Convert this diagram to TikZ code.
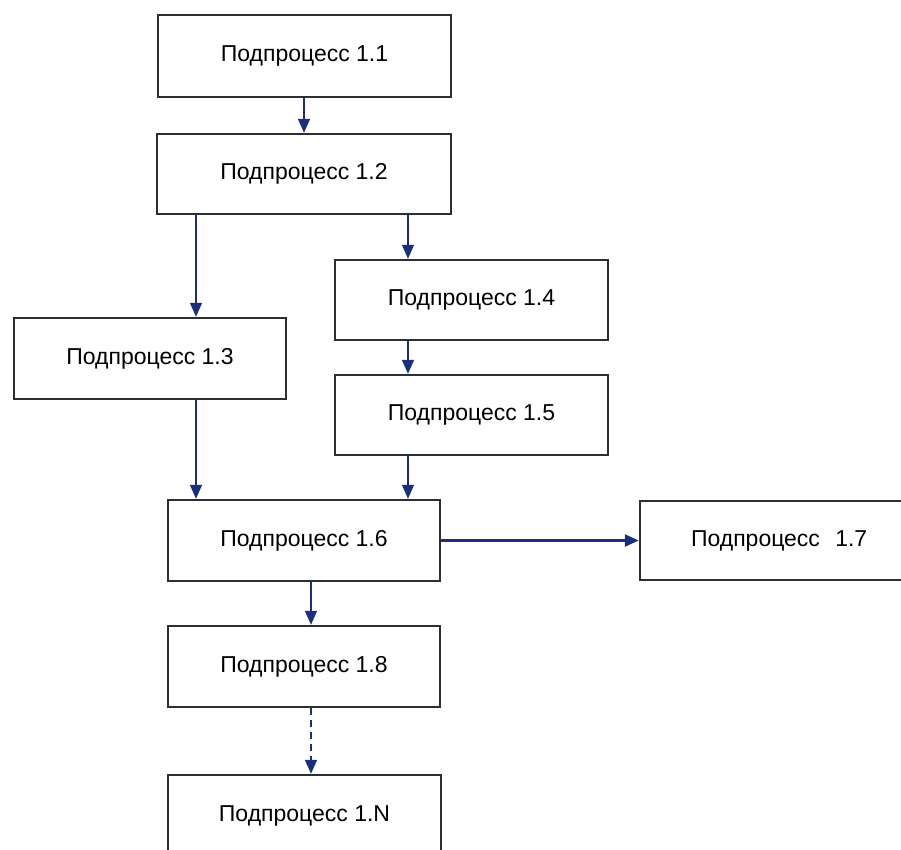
\documentclass[tikz,border=0pt]{standalone}
\usepackage{fontspec}
\setmainfont{Liberation Sans}
\usetikzlibrary{arrows.meta}
\definecolor{arrblue}{HTML}{1C2F7E}
\definecolor{boxline}{HTML}{2E2E2E}
\tikzset{
  procbox/.style={draw=boxline, line width=2.4pt, fill=white, minimum height=81pt,
    font=\fontsize{23}{26}\selectfont, inner sep=0pt},
  arr/.style={draw=arrblue, line width=1.7pt, -{Triangle[length=14pt,width=12pt]}},
  dasharr/.style={arr, dash pattern=on 7pt off 5pt}
}
\begin{document}
\begin{tikzpicture}[x=1pt,y=-1pt]
\useasboundingbox (0,0) rectangle (901,850);
\clip (0,0) rectangle (901,850);
\node[procbox, minimum width=293pt, minimum height=82pt] (n11) at (304.5,56) {Подпроцесс 1.1};
\node[procbox, minimum width=294pt, minimum height=80pt] (n12) at (304,174) {Подпроцесс 1.2};
\node[procbox, minimum width=272pt] (n13) at (150,358.5) {Подпроцесс 1.3};
\node[procbox, minimum width=273pt, minimum height=80pt] (n14) at (471.5,300) {Подпроцесс 1.4};
\node[procbox, minimum width=273pt, minimum height=80pt] (n15) at (471.5,415) {Подпроцесс 1.5};
\node[procbox, minimum width=272pt] (n16) at (304,540.5) {Подпроцесс 1.6};
\node[procbox, minimum width=272pt, minimum height=79pt, text width=262pt, align=left] (n17) at (776,540.5) {\hspace*{46pt}Подпроцесс\ \ 1.7};
\node[procbox, minimum width=272pt] (n18) at (304,666.5) {Подпроцесс 1.8};
\node[procbox, minimum width=273pt] (n1N) at (304.5,815.5) {Подпроцесс 1.N};
\coordinate (xc) at (304,0);
\coordinate (xl) at (196,0);
\coordinate (xr) at (408,0);
\coordinate (xm) at (311,0);
\draw[arr] (n11.south -| xc) -- (n12.north -| xc);
\draw[arr] (n12.south -| xl) -- (n13.north -| xl);
\draw[arr] (n12.south -| xr) -- (n14.north -| xr);
\draw[arr] (n14.south -| xr) -- (n15.north -| xr);
\draw[arr] (n13.south -| xl) -- (n16.north -| xl);
\draw[arr] (n15.south -| xr) -- (n16.north -| xr);
\draw[arr, line width=2.4pt] (n16.east) -- (n17.west);
\draw[arr] (n16.south -| xm) -- (n18.north -| xm);
\draw[dasharr] (n18.south -| xm) -- (n1N.north -| xm);
\end{tikzpicture}
\end{document}
